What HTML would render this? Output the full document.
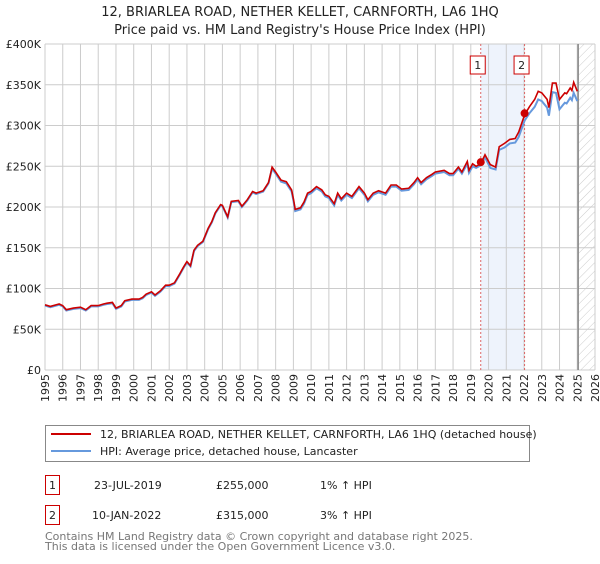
<!DOCTYPE html>
<html><head><meta charset="utf-8"><style>
body{margin:0;background:#fff;font-family:"DejaVu Sans","Liberation Sans",sans-serif;}
svg text{font-family:"DejaVu Sans","Liberation Sans",sans-serif;}
</style></head><body>
<svg id="chart" width="600" height="560" xmlns="http://www.w3.org/2000/svg">
<defs><pattern id="hatch" patternUnits="userSpaceOnUse" width="6" height="6" patternTransform="rotate(45)"><line x1="0" y1="0" x2="0" y2="6" stroke="#ccc" stroke-width="1"/></pattern></defs>
<text x="300" y="16" text-anchor="middle" font-size="13" fill="#222">12, BRIARLEA ROAD, NETHER KELLET, CARNFORTH, LA6 1HQ</text>
<text x="300" y="34" text-anchor="middle" font-size="13" fill="#222">Price paid vs. HM Land Registry's House Price Index (HPI)</text>
<g id="grid"></g><g id="series"></g><g id="axes"></g>
<rect x="45.5" y="425.5" width="484" height="36" fill="#fff" stroke="#888"/>
<line x1="51" y1="434" x2="91" y2="434" stroke="#cc0000" stroke-width="2"/>
<text x="100" y="438" font-size="11" fill="#222">12, BRIARLEA ROAD, NETHER KELLET, CARNFORTH, LA6 1HQ (detached house)</text>
<line x1="51" y1="451" x2="91" y2="451" stroke="#6699dd" stroke-width="2"/>
<text x="100" y="455" font-size="11" fill="#222">HPI: Average price, detached house, Lancaster</text>
<g font-size="11" fill="#222">
<rect x="45.5" y="475.5" width="14" height="19" fill="#fff" stroke="#cc0000"/><text x="52.5" y="489" text-anchor="middle">1</text>
<text x="94" y="489">23-JUL-2019</text><text x="216" y="489">£255,000</text><text x="320" y="489">1% ↑ HPI</text></g>
<g font-size="11" fill="#222">
<rect x="45.5" y="505.5" width="14" height="19" fill="#fff" stroke="#cc0000"/><text x="52.5" y="519" text-anchor="middle">2</text>
<text x="92" y="519">10-JAN-2022</text><text x="216" y="519">£315,000</text><text x="320" y="519">3% ↑ HPI</text></g>
<text x="45" y="540" font-size="11" fill="#777">Contains HM Land Registry data © Crown copyright and database right 2025.</text>
<text x="45" y="550" font-size="11" fill="#777">This data is licensed under the Open Government Licence v3.0.</text>
</svg>
<script>
const times=[1995.0,1995.3,1995.8,1996.0,1996.2,1996.6,1997.0,1997.3,1997.6,1998.0,1998.3,1998.5,1998.8,1999.0,1999.3,1999.5,1999.9,2000.3,2000.5,2000.7,2001.0,2001.2,2001.5,2001.8,2002.0,2002.3,2002.6,2002.8,2003.0,2003.2,2003.4,2003.6,2003.9,2004.2,2004.4,2004.6,2004.9,2005.0,2005.3,2005.5,2005.9,2006.1,2006.4,2006.7,2006.9,2007.3,2007.6,2007.8,2008.0,2008.3,2008.6,2008.9,2009.0,2009.1,2009.4,2009.6,2009.8,2010.0,2010.3,2010.6,2010.8,2011.0,2011.3,2011.5,2011.7,2012.0,2012.3,2012.7,2013.0,2013.2,2013.5,2013.8,2014.2,2014.5,2014.8,2015.1,2015.5,2015.8,2016.0,2016.2,2016.5,2016.8,2017.0,2017.5,2017.8,2018.0,2018.3,2018.5,2018.8,2018.9,2019.1,2019.3,2019.56,2019.8,2020.1,2020.4,2020.6,2020.9,2021.2,2021.5,2021.7,2022.03,2022.3,2022.6,2022.8,2023.0,2023.3,2023.4,2023.6,2023.8,2024.0,2024.3,2024.4,2024.6,2024.7,2024.8,2025.0];
const propertyValues=[80,78,81,79,74,76,77,74,79,79,81,82,83,76,79,85,87,87,89,93,96,92,97,104,104,107,118,126,133,128,147,153,158,174,182,193,203,202,188,207,208,201,209,219,217,220,230,249,243,233,231,221,210,197,199,206,217,219,225,221,215,213,204,217,210,217,213,225,217,209,217,220,217,227,227,222,223,230,236,230,236,240,243,245,241,241,249,243,256,245,253,250,253,264,252,249,274,278,283,284,292,313,323,332,342,340,332,322,352,352,332,340,339,346,343,353,342];
const hpiValues=[79,77,80,78,73,75,76,73,78,78,80,81,82,75,78,84,86,86,88,92,95,91,96,103,103,106,117,125,132,127,146,152,157,173,181,192,202,201,187,206,207,200,208,218,216,219,229,247,241,231,229,219,208,195,197,204,215,217,223,219,213,211,202,215,208,215,211,223,215,207,215,218,215,225,225,220,221,228,234,228,234,238,241,243,239,239,247,241,253,242,250,248,251,261,248,246,270,273,278,279,286,306,315,323,332,330,322,312,341,340,320,328,327,334,331,340,330];
const yTicks=[0,50,100,150,200,250,300,350,400];
const yTickLabels=["£0","£50K","£100K","£150K","£200K","£250K","£300K","£350K","£400K"];
const xYears=[1995,1996,1997,1998,1999,2000,2001,2002,2003,2004,2005,2006,2007,2008,2009,2010,2011,2012,2013,2014,2015,2016,2017,2018,2019,2020,2021,2022,2023,2024,2025,2026];
const saleTimes=[2019.56,2022.03];
const saleValues=[255,315];
const saleLabels=["1","2"];
const dataEnd=2025.05;
const L=45,R=595,T=44,B=370;
const x=t=>L+(t-1995)/(2026-1995)*(R-L);
const y=v=>B-v/400*(B-T);
const NS="http://www.w3.org/2000/svg";
function mk(tag,attrs,parent){const e=document.createElementNS(NS,tag);for(const k in attrs)e.setAttribute(k,attrs[k]);parent.appendChild(e);return e;}
const grid=document.getElementById('grid'),ser=document.getElementById('series'),ax=document.getElementById('axes');
let sh=mk('rect',{x:x(saleTimes[0]),y:T,width:x(saleTimes[1])-x(saleTimes[0]),height:B-T,fill:'#eef3fc'},grid);


yTicks.forEach((v,i)=>{
 let gl=mk('line',{x1:L,x2:R,y1:y(v),y2:y(v),stroke:'#ccc','stroke-width':1},grid);
 
 
 let t=mk('text',{x:L-4,y:y(v)+4,'text-anchor':'end','font-size':11,fill:'#222'},ax);t.textContent=yTickLabels[i];
 
 
});
xYears.forEach(yr=>{
 let gl=mk('line',{x1:x(yr),x2:x(yr),y1:T,y2:B,stroke:'#ccc','stroke-width':1},grid);
 
 
 const px=x(yr)+4, py=B+4;
 let t=mk('text',{x:px,y:py,'text-anchor':'end','font-size':11,fill:'#222',transform:`rotate(-90 ${px} ${py})`},ax);t.textContent=yr;
 
 
});
let hz=mk('rect',{x:x(dataEnd),y:T,width:R-x(dataEnd),height:B-T,fill:'url(#hatch)'},grid);


let el=mk('line',{x1:x(dataEnd),x2:x(dataEnd),y1:T,y2:B,stroke:'#888','stroke-width':1.5},grid);


saleTimes.forEach((st,i)=>{
 let vl=mk('line',{x1:x(st),x2:x(st),y1:T,y2:B,stroke:'#dd6666','stroke-width':1,'stroke-dasharray':'2,2'},grid);
 
 
 let bx=mk('rect',{x:x(st)-6.5-4,y:56,width:15,height:18,fill:'#fff',stroke:'#cc0000'},ax);
 
 
 let bt=mk('text',{x:x(st)-3,y:69,'text-anchor':'middle','font-size':11,fill:'#222'},ax);bt.textContent=saleLabels[i];
 
 
});
const path=vals=>vals.map((v,i)=>(i?'L':'M')+x(times[i]).toFixed(1)+','+y(v).toFixed(1)).join('');
let hp=mk('path',{d:path(hpiValues),fill:'none',stroke:'#6699dd','stroke-width':2},ser);


let pp=mk('path',{d:path(propertyValues),fill:'none',stroke:'#cc0000','stroke-width':1.6},ser);


saleTimes.forEach((st,i)=>{
 let c=mk('circle',{cx:x(st),cy:y(saleValues[i]),r:4,fill:'#cc0000'},ser);
 
 
});
</script>
</body></html>
